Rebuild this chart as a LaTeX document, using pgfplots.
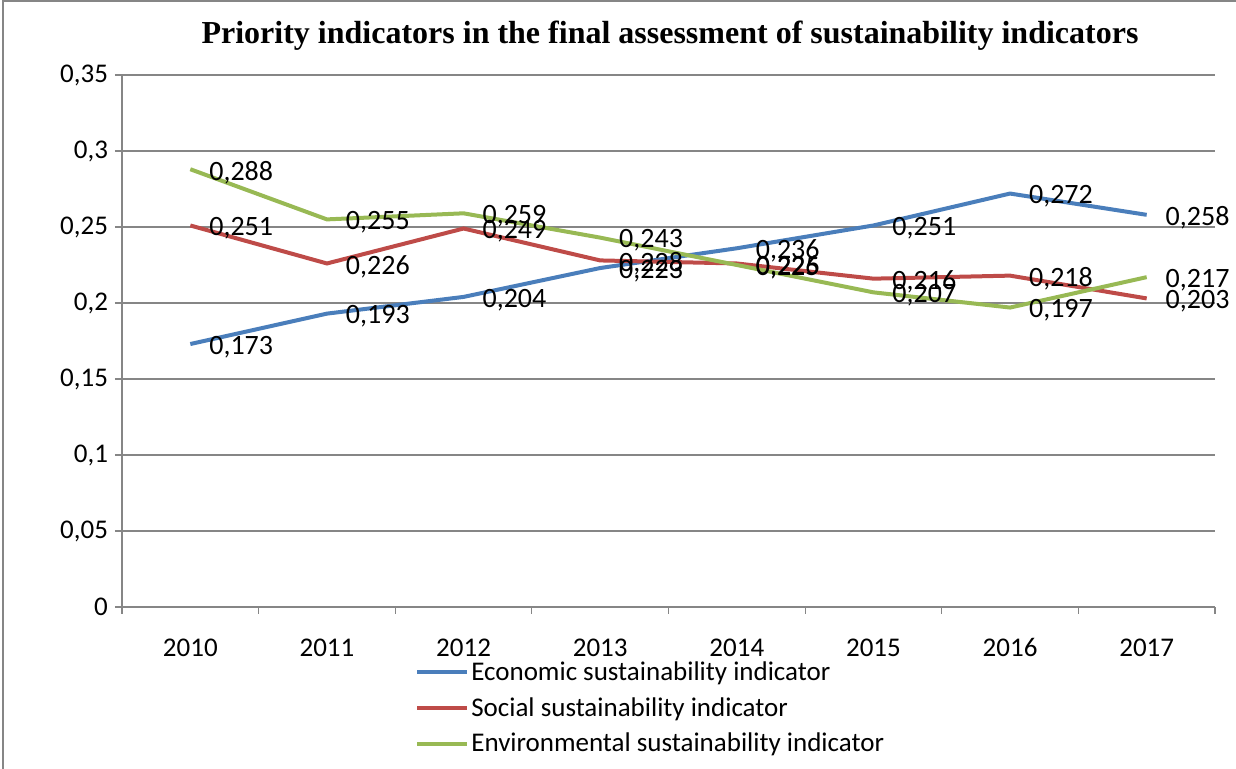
\documentclass[border=0pt]{standalone}
\usepackage{fontspec}
\setmainfont{Carlito}
\newfontfamily\titlefont{Liberation Serif}
\usepackage{pgfplots}
\pgfplotsset{compat=1.18}
\definecolor{econ}{HTML}{4A7EBB}
\definecolor{soc}{HTML}{BE4B48}
\definecolor{env}{HTML}{98B954}
\definecolor{gridc}{HTML}{868686}
\newcommand\lf{\fontsize{13.5pt}{16pt}\selectfont}
\newcommand\df{\fontsize{14pt}{16.5pt}\selectfont}
\begin{document}
\begin{tikzpicture}
\useasboundingbox (0,0) rectangle (618pt,384.5pt);
\draw[gridc, line width=0.6pt] (1.5pt,-20pt) rectangle (640pt,384pt);
\begin{axis}[
  at={(61pt,81pt)}, anchor=south west,
  scale only axis, width=546.5pt, height=266pt,
  xmin=-0.5, xmax=7.5, ymin=0, ymax=0.35,
  clip=false,
  axis x line*=bottom, axis y line*=left,
  axis line style={-, draw=gridc, line width=0.6pt},
  xtick={0,1,2,3,4,5,6,7},
  xticklabels={2010,2011,2012,2013,2014,2015,2016,2017},
  minor xtick={-0.5,0.5,1.5,2.5,3.5,4.5,5.5,6.5,7.5},
  major x tick style={draw=none},
  minor x tick style={draw=gridc, line width=0.6pt},
  ytick={0,0.05,0.1,0.15,0.2,0.25,0.3,0.35},
  y tick style={draw=gridc, line width=0.6pt},
  tick align=outside,
  major tick length=3.5pt, minor tick length=3.5pt,
  ymajorgrids, xmajorgrids=false, xminorgrids=false,
  major grid style={draw=gridc, line width=0.6pt},
  ticklabel style={font=\lf, text=black},
  /pgf/number format/assume math mode=true,
  yticklabel style={/pgf/number format/.cd, use comma, fixed, precision=2},
  xticklabel style={yshift=-8pt, text height=9.5pt, text depth=0pt},
  point meta=y,
  nodes near coords={\pgfmathprintnumber[use comma, fixed, precision=3, fixed zerofill, assume math mode=true]{\pgfplotspointmeta}},
  every node near coord/.append style={anchor=west, xshift=8.5pt, yshift=-1.5pt, font=\df, text=black, inner sep=0pt},
  legend style={at={(0.268,-0.098)}, anchor=north west, draw=none, fill=none, font=\lf, inner sep=0pt, row sep=5pt, nodes={inner sep=1pt}},
  legend cell align=left,
  legend image code/.code={\draw[#1] (0pt,0pt) -- (25pt,0pt);},
]
\addplot[econ, line width=2pt] coordinates {(0,0.173) (1,0.193) (2,0.204) (3,0.223) (4,0.236) (5,0.251) (6,0.272) (7,0.258)};
\addlegendentry{Economic sustainability indicator}
\addplot[soc, line width=2pt] coordinates {(0,0.251) (1,0.226) (2,0.249) (3,0.228) (4,0.226) (5,0.216) (6,0.218) (7,0.203)};
\addlegendentry{Social sustainability indicator}
\addplot[env, line width=2pt] coordinates {(0,0.288) (1,0.255) (2,0.259) (3,0.243) (4,0.225) (5,0.207) (6,0.197) (7,0.217)};
\addlegendentry{Environmental sustainability indicator}
\end{axis}
\node[font=\titlefont\bfseries\fontsize{16pt}{19pt}\selectfont] at (335pt,366.5pt) {Priority indicators in the final assessment of sustainability indicators};
\end{tikzpicture}
\end{document}
